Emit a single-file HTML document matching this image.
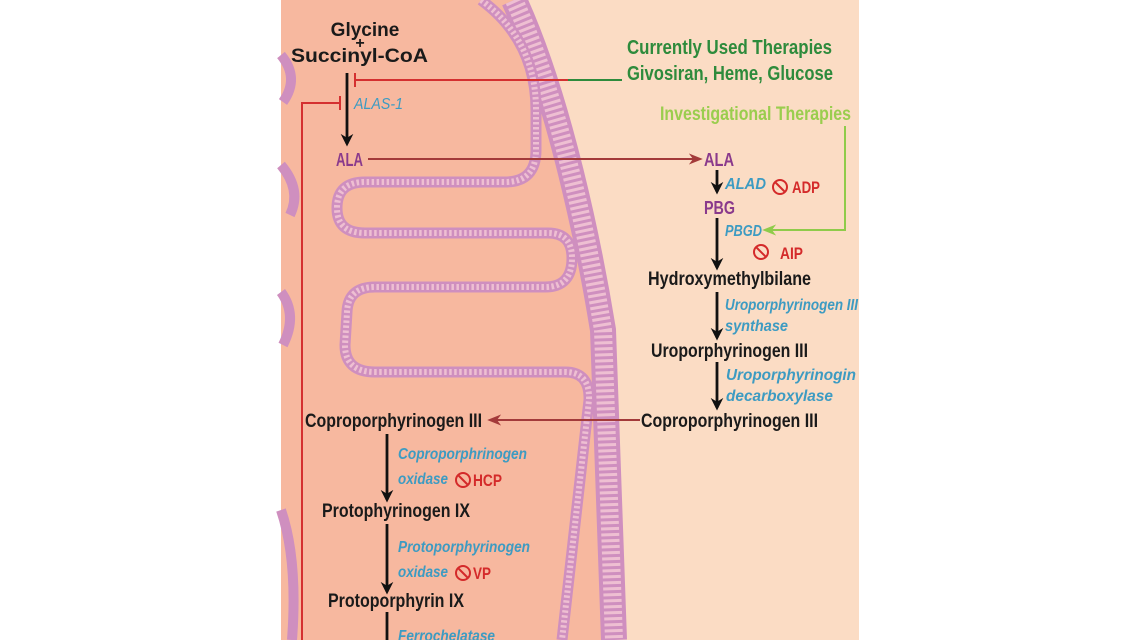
<!DOCTYPE html>
<html><head><meta charset="utf-8"><style>
html,body{margin:0;padding:0;background:#fff;width:1138px;height:640px;overflow:hidden}
svg{display:block}
text{font-family:"Liberation Sans Narrow","Liberation Sans",sans-serif;font-weight:bold}
.b{fill:#1a1a1a;font-size:19px}
.e{fill:#3d9bc2;font-size:16px;font-style:italic}
.r{fill:#d42a2a;font-size:17px}
.p{fill:#8a3a8c;font-size:18px}
</style></head><body>
<svg width="1138" height="640" viewBox="0 0 1138 640" xmlns="http://www.w3.org/2000/svg">
<defs>
<marker id="ab" viewBox="0 0 10 10" refX="8" refY="5" markerWidth="4.5" markerHeight="4.5" orient="auto"><path d="M0,0 L10,5 L0,10 L3,5z" fill="#111"/></marker>
<marker id="ar" viewBox="0 0 10 10" refX="8" refY="5" markerWidth="7" markerHeight="7" orient="auto"><path d="M0,1 L10,5 L0,9 L3,5z" fill="#a33a3a"/></marker>
<marker id="ag" viewBox="0 0 10 10" refX="8" refY="5" markerWidth="7" markerHeight="7" orient="auto"><path d="M0,1 L10,5 L0,9 L3,5z" fill="#8fcb4a"/></marker>
</defs>
<rect x="281" y="0" width="578" height="640" fill="#fbdcc4"/>
<path d="M281,0 L514,0 C560,100 590,250 603,330 L614,640 L281,640Z" fill="#f7b89f"/>
<path d="M514,0 C560,100 590,250 603,330 L614,640" fill="none" stroke="#cf8fbf" stroke-width="26"/>
<path d="M514,0 C560,100 590,250 603,330 L614,640" fill="none" stroke="#eebfd2" stroke-width="18" stroke-dasharray="3 3"/>
<g fill="none">
<path d="M481,0 C515,25 536,60 536,110 L536,150 Q536,182 505,182 L365,182 Q337,182 337,208 Q337,233 365,233 L548,233 Q572,233 572,258 Q572,287 545,287 L375,287 Q348,287 347,312 L345,345 Q345,372 375,372 L565,372 Q590,372 589,400 L562,640" stroke="#cf8fbf" stroke-width="11"/>
<path d="M481,0 C515,25 536,60 536,110 L536,150 Q536,182 505,182 L365,182 Q337,182 337,208 Q337,233 365,233 L548,233 Q572,233 572,258 Q572,287 545,287 L375,287 Q348,287 347,312 L345,345 Q345,372 375,372 L565,372 Q590,372 589,400 L562,640" stroke="#eebfd2" stroke-width="6" stroke-dasharray="2.5 2.5"/>
<g stroke="#cf8fbf" stroke-width="10">
<path d="M281,55 Q300,78 283,102"/>
<path d="M281,165 Q302,190 290,215"/>
<path d="M281,292 Q298,315 283,345"/>
<path d="M281,510 Q298,560 292,640"/>
</g>
</g>
<path d="M302,640 L302,103 L340,103" fill="none" stroke="#d43030" stroke-width="2"/>
<line x1="340" y1="96" x2="340" y2="110" stroke="#d43030" stroke-width="2"/>
<line x1="355" y1="80" x2="568" y2="80" stroke="#d43030" stroke-width="2"/>
<line x1="355" y1="73" x2="355" y2="87" stroke="#d43030" stroke-width="2"/>
<line x1="568" y1="80" x2="622" y2="80" stroke="#2e8b3c" stroke-width="2"/>
<g stroke="#111" stroke-width="2.8">
<line x1="347" y1="73" x2="347" y2="144" marker-end="url(#ab)"/>
<line x1="717" y1="170" x2="717" y2="192" marker-end="url(#ab)"/>
<line x1="717" y1="218" x2="717" y2="268" marker-end="url(#ab)"/>
<line x1="717" y1="292" x2="717" y2="338" marker-end="url(#ab)"/>
<line x1="717" y1="362" x2="717" y2="408" marker-end="url(#ab)"/>
<line x1="387" y1="434" x2="387" y2="500" marker-end="url(#ab)"/>
<line x1="387" y1="524" x2="387" y2="592" marker-end="url(#ab)"/>
<line x1="387" y1="612" x2="387" y2="645"/>
</g>
<line x1="368" y1="159" x2="700" y2="159" stroke="#a33a3a" stroke-width="2" marker-end="url(#ar)"/>
<line x1="640" y1="420" x2="490" y2="420" stroke="#a33a3a" stroke-width="2" marker-end="url(#ar)"/>
<path d="M845,126 L845,230 L765,230" fill="none" stroke="#8fcb4a" stroke-width="2" marker-end="url(#ag)"/>
<text x="365" y="36" text-anchor="middle" style="font-family:'Liberation Sans',sans-serif;font-size:19px" fill="#1a1a1a">Glycine</text>
<text x="360" y="48" text-anchor="middle" style="font-family:'Liberation Sans',sans-serif;font-size:16px" fill="#1a1a1a">+</text>
<text x="291" y="62" textLength="137" lengthAdjust="spacingAndGlyphs" style="font-family:'Liberation Sans',sans-serif;font-size:19px" fill="#1a1a1a">Succinyl-CoA</text>
<text x="354" y="109" class="e" textLength="49" lengthAdjust="spacingAndGlyphs" style="font-weight:normal">ALAS-1</text>
<text x="336" y="166" class="p" textLength="27" lengthAdjust="spacingAndGlyphs">ALA</text>
<text x="627" y="54" fill="#2e8b3c" style="font-size:20px" textLength="205" lengthAdjust="spacingAndGlyphs">Currently Used Therapies</text>
<text x="627" y="80" fill="#2e8b3c" style="font-size:20px" textLength="206" lengthAdjust="spacingAndGlyphs">Givosiran, Heme, Glucose</text>
<text x="660" y="120" fill="#9acd4e" style="font-size:19px" textLength="191" lengthAdjust="spacingAndGlyphs">Investigational Therapies</text>
<text x="704" y="166" class="p" textLength="30" lengthAdjust="spacingAndGlyphs">ALA</text>
<text x="725" y="189" class="e" textLength="41" lengthAdjust="spacingAndGlyphs">ALAD</text>
<text x="792" y="193" class="r" textLength="28" lengthAdjust="spacingAndGlyphs">ADP</text>
<text x="704" y="214" class="p" textLength="31" lengthAdjust="spacingAndGlyphs">PBG</text>
<text x="725" y="236" class="e" textLength="37" lengthAdjust="spacingAndGlyphs">PBGD</text>
<text x="780" y="259" class="r" textLength="23" lengthAdjust="spacingAndGlyphs">AIP</text>
<text x="648" y="285" class="b" textLength="163" lengthAdjust="spacingAndGlyphs">Hydroxymethylbilane</text>
<text x="725" y="310" class="e" textLength="133" lengthAdjust="spacingAndGlyphs">Uroporphyrinogen III</text>
<text x="725" y="331" class="e" textLength="63" lengthAdjust="spacingAndGlyphs">synthase</text>
<text x="651" y="357" class="b" textLength="157" lengthAdjust="spacingAndGlyphs">Uroporphyrinogen III</text>
<text x="726" y="380" class="e" textLength="130" lengthAdjust="spacingAndGlyphs">Uroporphyrinogin</text>
<text x="726" y="401" class="e" textLength="107" lengthAdjust="spacingAndGlyphs">decarboxylase</text>
<text x="641" y="427" class="b" textLength="177" lengthAdjust="spacingAndGlyphs">Coproporphyrinogen III</text>
<text x="305" y="427" class="b" textLength="177" lengthAdjust="spacingAndGlyphs">Coproporphyrinogen III</text>
<text x="398" y="459" class="e" textLength="129" lengthAdjust="spacingAndGlyphs">Coproporphrinogen</text>
<text x="398" y="484" class="e" textLength="50" lengthAdjust="spacingAndGlyphs">oxidase</text>
<text x="473" y="486" class="r" textLength="29" lengthAdjust="spacingAndGlyphs">HCP</text>
<text x="322" y="517" class="b" textLength="148" lengthAdjust="spacingAndGlyphs">Protophyrinogen IX</text>
<text x="398" y="552" class="e" textLength="132" lengthAdjust="spacingAndGlyphs">Protoporphyrinogen</text>
<text x="398" y="577" class="e" textLength="50" lengthAdjust="spacingAndGlyphs">oxidase</text>
<text x="473" y="579" class="r" textLength="18" lengthAdjust="spacingAndGlyphs">VP</text>
<text x="328" y="607" class="b" textLength="136" lengthAdjust="spacingAndGlyphs">Protoporphyrin IX</text>
<text x="398" y="641" class="e" textLength="97" lengthAdjust="spacingAndGlyphs">Ferrochelatase</text>
<g fill="none" stroke="#d42a2a" stroke-width="2">
<circle cx="780" cy="187" r="7"/><line x1="775" y1="182" x2="785" y2="192"/>
<circle cx="761" cy="252" r="7"/><line x1="756" y1="247" x2="766" y2="257"/>
<circle cx="463" cy="480" r="7"/><line x1="458" y1="475" x2="468" y2="485"/>
<circle cx="463" cy="573" r="7"/><line x1="458" y1="568" x2="468" y2="578"/>
</g>
</svg>
</body></html>
